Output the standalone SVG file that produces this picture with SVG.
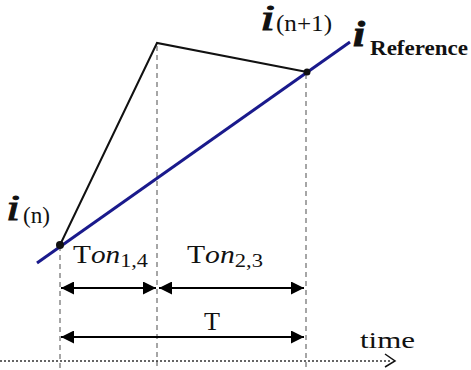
<svg xmlns="http://www.w3.org/2000/svg" width="471" height="370" viewBox="0 0 471 370">
<defs>
<marker id="ah" viewBox="0 0 10 10" refX="10" refY="5" markerWidth="15" markerHeight="13" markerUnits="userSpaceOnUse" orient="auto-start-reverse">
<path d="M0,0 L10,5 L0,10 z" fill="#000"/>
</marker>
</defs>
<style>
.t{font-family:"Liberation Serif",serif;fill:#111}
.iv{font-style:italic;font-size:36px;stroke:#111;stroke-width:0.9}
.dash{stroke:#777;stroke-width:1.3;stroke-dasharray:5,4;fill:none}
.dim{stroke:#000;stroke-width:2;fill:none;marker-start:url(#ah);marker-end:url(#ah)}
</style>
<rect width="471" height="370" fill="#fff"/>
<g id="connectors">
<line class="dash" x1="60" y1="246" x2="60" y2="368"/>
<line class="dash" x1="157" y1="46" x2="157" y2="368"/>
<line class="dash" x1="306" y1="74" x2="306" y2="368"/>
<line x1="0" y1="361" x2="392" y2="361" stroke="#333" stroke-width="1.3" stroke-dasharray="2,2"/>
<path d="M385,354 L395,361 L385,367" fill="none" stroke="#111" stroke-width="1.5"/>
<line x1="37" y1="263" x2="350" y2="42" stroke="#1a1a8c" stroke-width="3"/>
<polyline points="60,245 157,43 307,72" fill="none" stroke="#111" stroke-width="2"/>
<line class="dim" x1="61" y1="288" x2="156" y2="288"/>
<line class="dim" x1="159" y1="288" x2="304" y2="288"/>
<line class="dim" x1="61" y1="337" x2="304" y2="337"/>
</g>
<g id="point-n">
<circle cx="60" cy="245" r="4" fill="#111"/>
<text class="t iv" transform="translate(6,220) scale(1.4,1)">i</text>
<text class="t" x="23" y="223" font-size="24" textLength="27" lengthAdjust="spacingAndGlyphs">(n)</text>
</g>
<g id="point-n1">
<circle cx="307" cy="72" r="3.5" fill="#111"/>
<text class="t iv" transform="translate(260,30) scale(1.5,1)" font-size="32">i</text>
<text class="t" x="276" y="31" font-size="24" textLength="56" lengthAdjust="spacingAndGlyphs">(n+1)</text>
</g>
<g id="reference">
<text class="t iv" transform="translate(353,46) scale(1.2,1)" font-weight="bold">i</text>
<text class="t" x="370" y="55" font-size="22" font-weight="bold" textLength="98" lengthAdjust="spacingAndGlyphs">Reference</text>
</g>
<g id="labels">
<text class="t" x="73" y="263" font-size="25" textLength="75" lengthAdjust="spacingAndGlyphs">T<tspan font-style="italic">on</tspan><tspan font-size="19" dy="4">1,4</tspan></text>
<text class="t" x="187" y="263" font-size="25" textLength="76" lengthAdjust="spacingAndGlyphs">T<tspan font-style="italic">on</tspan><tspan font-size="19" dy="4">2,3</tspan></text>
<text class="t" x="204" y="330" font-size="26" textLength="16" lengthAdjust="spacingAndGlyphs">T</text>
<text class="t" x="360" y="348" font-size="24" textLength="55" lengthAdjust="spacingAndGlyphs">time</text>
</g>
</svg>
